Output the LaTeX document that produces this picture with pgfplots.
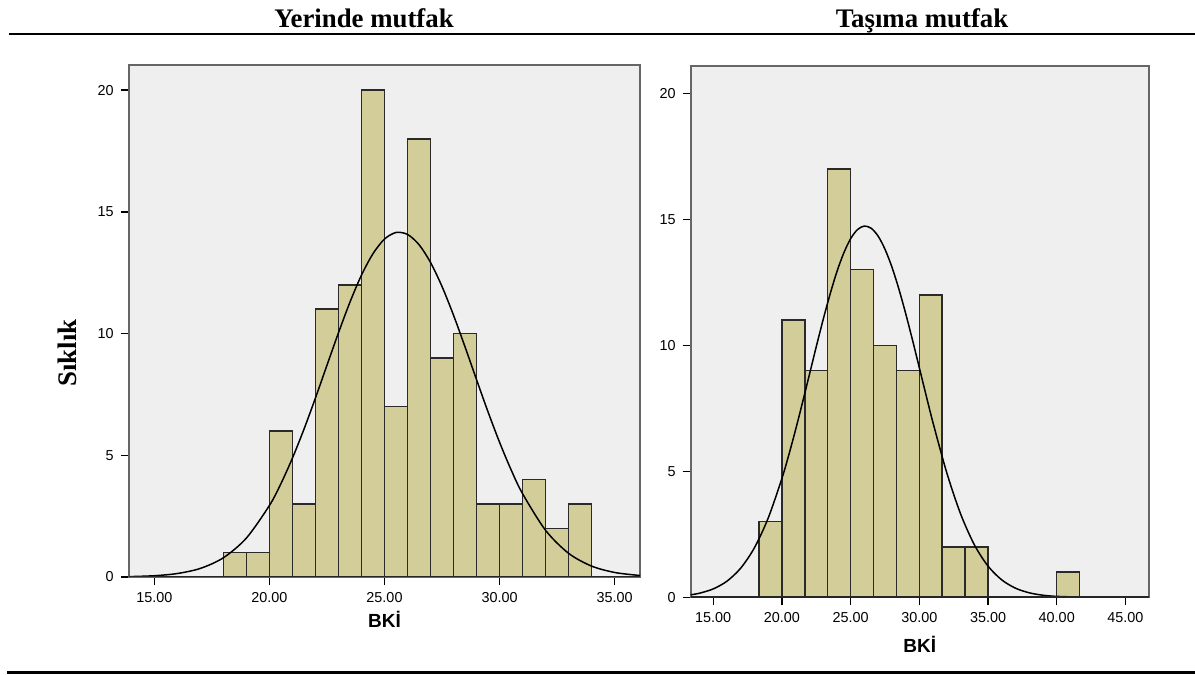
\documentclass[border=0pt]{standalone}
\usepackage{fontspec}
\setmainfont{Liberation Serif}
\newfontfamily\spssfont{Liberation Sans}
\usepackage{pgfplots}
\pgfplotsset{compat=1.18}
\definecolor{panelbg}{HTML}{EFEFEF}
\definecolor{barfill}{HTML}{D3CE99}
\definecolor{baredge}{HTML}{2A2A2A}
\definecolor{framegray}{HTML}{666666}

\pgfplotsset{
  spsshist/.style={
    scale only axis,
    ymin=0,
    axis background/.style={fill=panelbg},
    axis line style={draw=framegray, line width=1pt},
    tick align=outside,
    xtick pos=left, ytick pos=left,
    major tick length=4pt,
    tick style={black, line width=0.7pt},
    ytick={0,5,10,15,20},
    ticklabel style={font=\spssfont\fontsize{7.2}{8}\selectfont,
      /pgf/number format/assume math mode=true},
    xticklabel style={/pgf/number format/fixed,
      /pgf/number format/fixed zerofill,
      /pgf/number format/precision=2},
    xlabel style={font=\spssfont\bfseries\fontsize{9.5}{11}\selectfont,
      at={(axis description cs:0.5,0)}, anchor=center},
  },
  histbar/.style={ybar, bar shift=0pt, fill=barfill, draw=baredge, line width=0.75pt},
  normcurve/.style={black, line width=0.75pt, smooth, mark=none},
}

\begin{document}
\begin{tikzpicture}
\useasboundingbox (0,0) rectangle (597.5pt,337.5pt);

% titles and table rules
\node[anchor=base, font=\bfseries\fontsize{13.4}{16}\selectfont] at (182pt,323.5pt) {Yerinde mutfak};
\node[anchor=base, font=\bfseries\fontsize{13.4}{16}\selectfont] at (461pt,323.5pt) {Taşıma mutfak};
\draw[line width=1pt] (4.5pt,320.3pt) -- (597.5pt,320.3pt);
\draw[line width=1.7pt] (3.5pt,1.1pt) -- (597.5pt,1.1pt);
\node[rotate=90, font=\bfseries\fontsize{13.4}{16}\selectfont] at (33.5pt,161pt) {Sıklık};

% left: Yerinde mutfak
\begin{axis}[spsshist,
  at={(64.4pt,49pt)}, anchor=south west,
  width=255.7pt, height=256pt,
  xmin=13.89, xmax=36.11, ymax=21.03,
  xtick={15,20,25,30,35},
  xlabel={BKİ}, xlabel style={yshift=-21pt},
]
\addplot[histbar, bar width=1] coordinates {
(18.5,1) (19.5,1) (20.5,6) (21.5,3) (22.5,11) (23.5,12) (24.5,20) (25.5,7)
(26.5,18) (27.5,9) (28.5,10) (29.5,3) (30.5,3) (31.5,4) (32.5,2) (33.5,3) };
\addplot[normcurve] coordinates {
(13.89,0.015) (15,0.052) (16,0.143) (17,0.353) (18,0.790) (19,1.600) (20,2.938)
(20.5,3.835) (21,4.884) (21.5,6.068) (22,7.353) (22.5,8.697) (23,10.03) (23.5,11.29)
(24,12.40) (24.5,13.28) (25,13.88) (25.5,14.15) (26,14.07) (26.5,13.65) (27,12.92)
(27.5,11.93) (28,10.75) (28.5,9.450) (29,8.104) (29.5,6.778) (30,5.532) (30.5,4.404)
(31,3.421) (32,1.916) (33,0.972) (34,0.447) (35,0.186) (36,0.070) (36.11,0.062) };
\draw[black!85, line width=1.2pt] (rel axis cs:0,0) -- (rel axis cs:1,0);
\end{axis}

% right: Taşıma mutfak
\begin{axis}[spsshist,
  at={(345.35pt,38.85pt)}, anchor=south west,
  width=229.05pt, height=265.65pt,
  xmin=13.36, xmax=46.70, ymax=21.08,
  xtick={15,20,25,30,35,40,45},
  xlabel={BKİ}, xlabel style={yshift=-23.3pt},
]
\addplot[histbar, bar width=1.6667] coordinates {
(19.167,3) (20.833,11) (22.5,9) (24.167,17) (25.833,13) (27.5,10) (29.167,9)
(30.833,12) (32.5,2) (34.167,2) (40.833,1) };
\addplot[normcurve] coordinates {
(13.36,0.099) (14,0.162) (15,0.333) (16,0.640) (17,1.157) (18,1.968) (19,3.143)
(20,4.720) (20.5,5.651) (21,6.663) (21.5,7.735) (22,8.838) (22.5,9.946) (23,11.02)
(23.5,12.02) (24,12.92) (24.5,13.66) (25,14.23) (25.5,14.59) (26,14.73) (26.5,14.64)
(27,14.33) (27.5,13.81) (28,13.11) (28.5,12.25) (29,11.27) (29.5,10.21) (30,9.105)
(30.5,7.996) (31,6.914) (32,4.936) (33,3.312) (34,2.088) (35,1.237) (36,0.690)
(37,0.361) (38,0.178) (39,0.082) (40,0.036) (42,0.006) (44,0.001) (46.70,0) };
\draw[black!85, line width=1.2pt] (rel axis cs:0,0) -- (rel axis cs:1,0);
\end{axis}
\end{tikzpicture}
\end{document}
